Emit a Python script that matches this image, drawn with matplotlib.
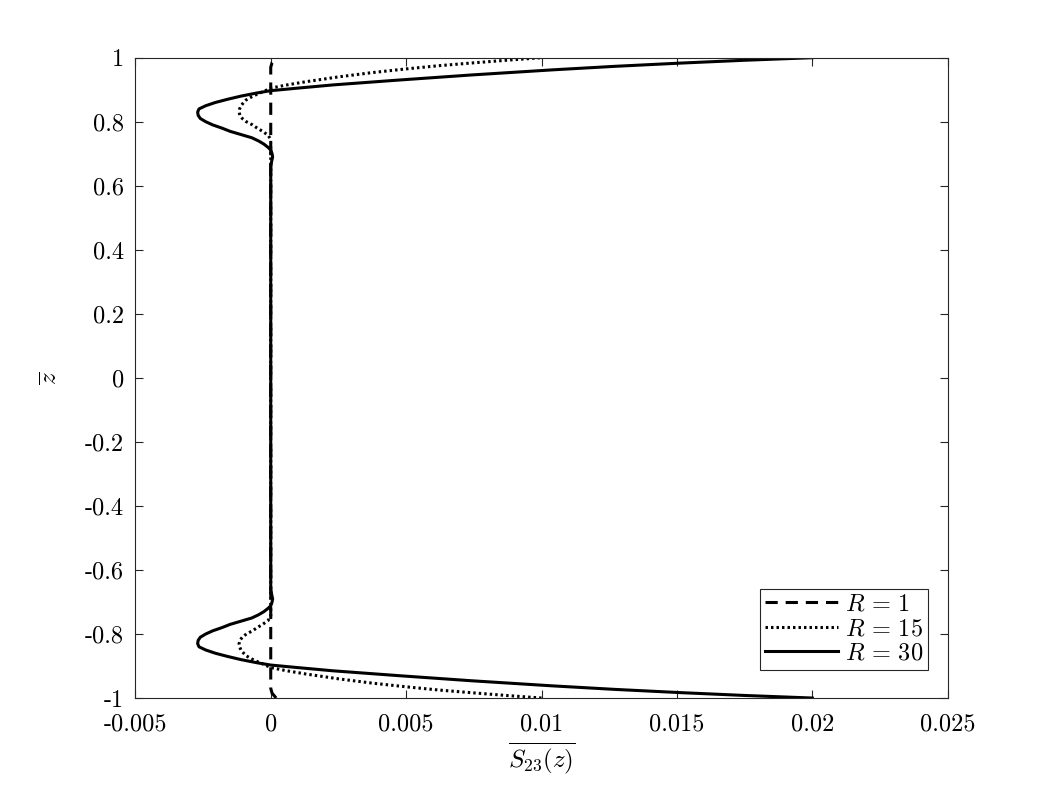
import numpy as np
import matplotlib
matplotlib.use("Agg")
import matplotlib.pyplot as plt

plt.rcParams['font.family'] = 'serif'
plt.rcParams['font.serif'] = ['cmr10']
plt.rcParams['mathtext.fontset'] = 'cm'
plt.rcParams['axes.unicode_minus'] = False
plt.rcParams['axes.formatter.use_mathtext'] = True

# upper half of the channel (profiles are symmetric about z = 0)
z_r1 = [0.0, 0.5, 0.97, 0.985, 1.0]
s_r1 = [0.0, 0.0, 0.0, 0.00005, 0.0002]

z_r15 = [0.0, 0.5, 0.70, 0.745, 0.758, 0.77, 0.78, 0.79, 0.80, 0.81, 0.82, 0.831,
         0.84, 0.85, 0.86, 0.868, 0.878, 0.888, 0.897, 0.905, 0.915, 0.925, 0.94,
         0.953, 0.965, 0.975, 0.984, 0.992, 1.0]
s_r15 = [0.0, 0.0, 0.0, 0.0, -0.0001, -0.0003, -0.0005, -0.00067, -0.0009, -0.00105,
         -0.00114, -0.00117, -0.00115, -0.0011, -0.001, -0.00091, -0.0007, -0.00045,
         -0.0002, 0.0, 0.0006, 0.0013, 0.0025, 0.0037, 0.005, 0.0062, 0.0075, 0.0087, 0.01]

z_r30 = [0.0, 0.5, 0.66, 0.675, 0.69, 0.70, 0.712, 0.72, 0.73, 0.74, 0.75, 0.76,
         0.77, 0.78, 0.79, 0.80, 0.81, 0.82, 0.83, 0.84, 0.85, 0.86, 0.87, 0.88,
         0.89, 0.897, 0.905, 0.915, 0.93, 0.946, 0.962, 0.973, 0.983, 0.992, 1.0]
s_r30 = [0.0, 0.0, 0.0, 0.00003, 0.00007, 0.00005, 0.0, -0.0001, -0.00025, -0.00045,
         -0.0007, -0.0011, -0.0015, -0.0018, -0.00214, -0.0024, -0.0026, -0.00268,
         -0.0027, -0.00265, -0.0024, -0.00205, -0.0016, -0.0011, -0.0005, 0.0,
         0.001, 0.0023, 0.0047, 0.0074, 0.0104, 0.0127, 0.0151, 0.0175, 0.02]

xticks = [-0.005, 0, 0.005, 0.01, 0.015, 0.02, 0.025]
xtick_labels = ['-0.005', '0', '0.005', '0.01', '0.015', '0.02', '0.025']
yticks = [-1, -0.8, -0.6, -0.4, -0.2, 0, 0.2, 0.4, 0.6, 0.8, 1]
ytick_labels = ['-1', '-0.8', '-0.6', '-0.4', '-0.2', '0', '0.2', '0.4', '0.6', '0.8', '1']


def full(z, s):
    z = np.asarray(z)
    s = np.asarray(s)
    return np.concatenate([s[::-1], s[1:]]), np.concatenate([-z[::-1], z[1:]])


fig = plt.figure(figsize=(10.46, 7.85), dpi=100)
ax = fig.add_axes([0.1294, 0.1108, 0.9060 - 0.1294, 0.9265 - 0.1108])

x, y = full(z_r1, s_r1)
ax.plot(x, y, color='k', lw=2.2, linestyle=(0, (4, 2.6)), label=r'$R\,=\,1$')
x, y = full(z_r15, s_r15)
ax.plot(x, y, color='k', lw=2.2, linestyle=(0, (0.8, 1.0)), label=r'$R\,=\,15$')
x, y = full(z_r30, s_r30)
ax.plot(x, y, color='k', lw=2.2, linestyle='-', label=r'$R\,=\,30$')

ax.set_xlim(-0.005, 0.025)
ax.set_ylim(-1, 1)
ax.set_xticks(xticks)
ax.set_xticklabels(xtick_labels)
ax.set_yticks(yticks)
ax.set_yticklabels(ytick_labels)
ax.tick_params(direction='in', top=True, right=True, length=6, width=0.8,
               labelsize=17.5, colors='#262626', pad=8)
ax.tick_params(axis='x', pad=11)
ax.tick_params(labelcolor='k')
for sp in ax.spines.values():
    sp.set_color('#262626')
    sp.set_linewidth(0.8)

ax.set_xlabel(r'$\overline{S_{23}(z)}$', fontsize=18, labelpad=4)
ax.set_ylabel(r'$\overline{z}$', fontsize=18, labelpad=17)

leg = ax.legend(loc='lower right', bbox_to_anchor=(0.976, 0.044), fontsize=17.5,
                handlelength=3.0, handletextpad=0.3, borderpad=0.2,
                labelspacing=0.1, fancybox=False, framealpha=1,
                edgecolor='#262626', borderaxespad=0)
leg.get_frame().set_linewidth(0.8)

fig.savefig('out.png', dpi=100)
